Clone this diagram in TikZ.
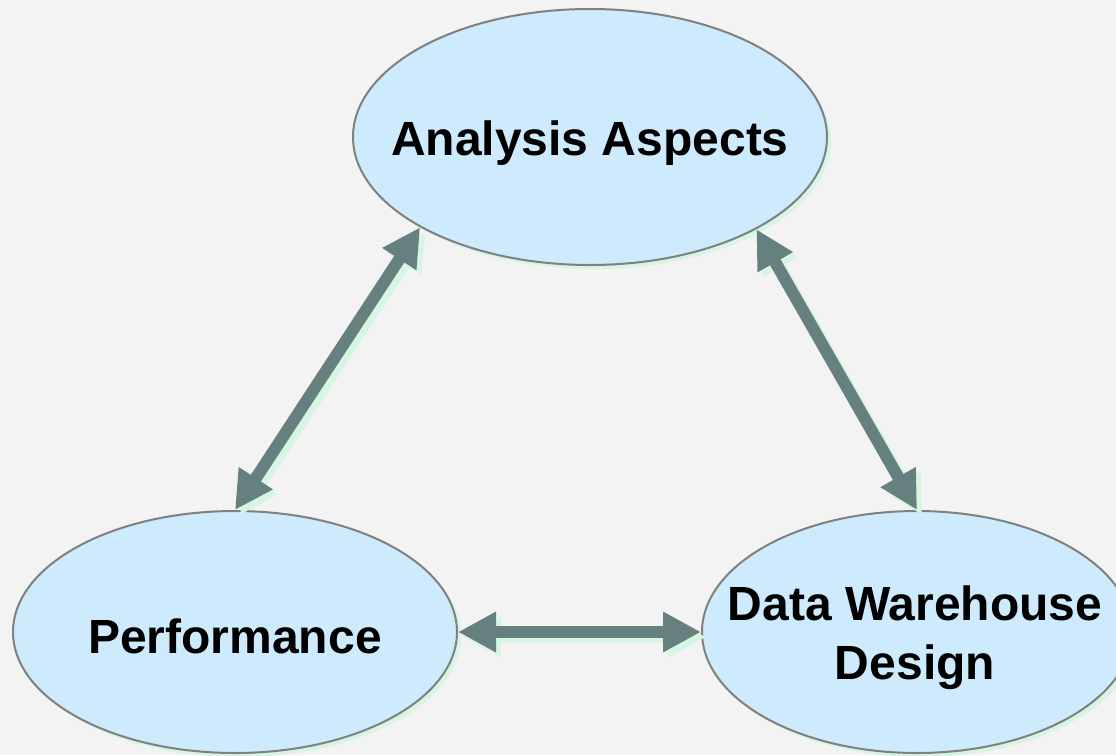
\documentclass[tikz,border=0pt]{standalone}
\usepackage{fontspec}
\setmainfont{Liberation Sans}
\usetikzlibrary{shapes.geometric,arrows.meta}
\definecolor{bg}{HTML}{F3F3F3}
\definecolor{bubble}{HTML}{CDEBFD}
\definecolor{rim}{HTML}{808080}
\definecolor{shade}{HTML}{D6F5E3}
\definecolor{arrowc}{HTML}{668080}
\tikzset{
  bubble/.style={ellipse, draw=rim, line width=2pt, fill=bubble, inner sep=0pt},
  bubbleshadow/.style={ellipse, fill=shade, inner sep=0pt},
  lbl/.style={font=\fontsize{48}{59}\selectfont\bfseries, inner sep=0pt, align=center},
  link/.style={draw=arrowc, line width=12pt, {Triangle[length=38pt,width=38pt]}-{Triangle[length=38pt,width=38pt]}},
  linkshadow/.style={draw=shade, line width=12pt, {Triangle[length=38pt,width=38pt]}-{Triangle[length=38pt,width=38pt]}, transform canvas={shift={(5pt,-5pt)}}}
}
\begin{document}
\begin{tikzpicture}[x=1pt,y=-1pt]
\fill[bg] (0,0) rectangle (1116,755);
\useasboundingbox (0,0) rectangle (1116,755);
% shadows of the bubbles
\node[bubbleshadow, minimum width=474pt, minimum height=256pt] (aas) at (594,141) {};
\node[bubbleshadow, minimum width=444pt, minimum height=242pt] (pes) at (239,636) {};
\node[bubbleshadow, minimum width=430pt, minimum height=242pt] (dws) at (921,636) {};
% bubbles
\node[bubble, minimum width=474pt, minimum height=256pt] (aa) at (590,137) {};
\node[bubble, minimum width=444pt, minimum height=242pt] (pe) at (235,632) {};
\node[bubble, minimum width=430pt, minimum height=242pt] (dw) at (917,632) {};
% labels
\node[lbl, anchor=base] (aat) at (590,155) {Analysis Aspects};
\node[lbl, anchor=base] (pet) at (235,653) {Performance};
\node[lbl] (dwt) at (915,638) {Data Warehouse\\Design};
% connector shadows
\draw[linkshadow] (aa.208.6) -- (pe.north);
\draw[linkshadow] (aa.331.6) -- (dw.north);
\draw[linkshadow] (pe.east) -- (dw.west);
% connectors
\draw[link] (aa.208.6) -- (pe.north);
\draw[link] (aa.331.6) -- (dw.north);
\draw[link] (pe.east) -- (dw.west);
\end{tikzpicture}
\end{document}
